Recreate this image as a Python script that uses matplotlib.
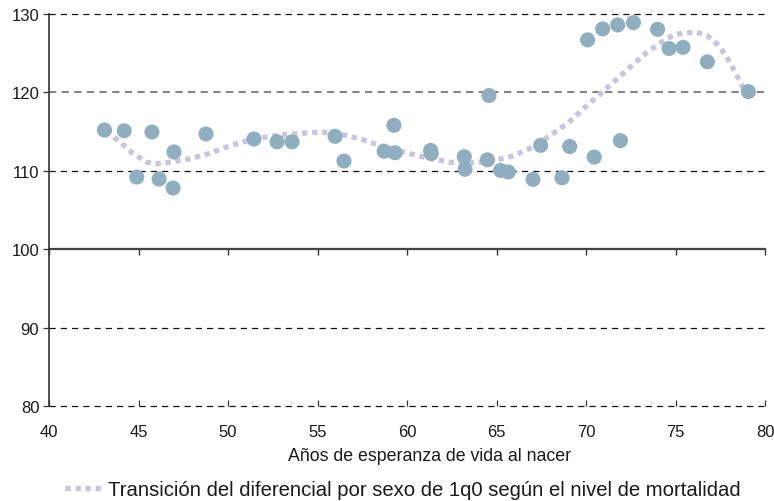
import matplotlib
matplotlib.use("Agg")
import matplotlib.pyplot as plt
from matplotlib.lines import Line2D

plt.rcParams['font.family'] = ['Liberation Sans', 'DejaVu Sans']

# Observed points: life expectancy at birth vs. sex differential of 1q0
life_exp = [43.1, 44.2, 44.9, 45.75, 46.15, 46.93, 46.98, 48.77, 51.45, 52.74,
            53.58, 55.98, 56.48, 58.72, 59.27, 59.33, 61.32, 61.35, 63.2, 63.24,
            64.49, 64.58, 65.23, 65.66, 67.04, 67.47, 68.66, 69.09, 70.09, 70.46,
            70.93, 71.77, 71.92, 72.65, 74.0, 74.64, 75.42, 76.78, 79.07]
sex_diff = [115.2, 115.1, 109.2, 114.95, 108.95, 107.8, 112.4, 114.7, 114.05, 113.7,
            113.7, 114.4, 111.25, 112.5, 115.8, 112.3, 112.6, 112.2, 111.8, 110.2,
            111.4, 119.6, 110.05, 109.85, 108.9, 113.25, 109.1, 113.1, 126.7, 111.75,
            128.1, 128.6, 113.85, 128.9, 128.05, 125.6, 125.75, 123.9, 120.1]

# Transition curve
trend_x = [43.2, 44.0, 44.7, 45.46, 46.1, 46.76, 47.8, 48.8, 50.0, 51.4, 53.0,
           54.75, 55.7, 56.63, 57.6, 58.5, 59.98, 61.2, 62.4, 63.3, 64.08, 65.0,
           65.94, 67.0, 68.0, 69.0, 69.85, 70.7, 71.53, 72.5, 73.39, 74.2, 74.88,
           75.5, 76.18, 76.8, 77.3, 77.8, 78.23, 78.6, 78.98, 79.2]
trend_y = [115.1, 113.6, 112.2, 111.1, 110.9, 111.1, 111.5, 112.1, 113.1, 114.05, 114.6,
           114.9, 114.9, 114.5, 113.9, 113.2, 112.27, 111.6, 111.1, 110.95, 111.1, 111.4,
           111.9, 113.0, 114.5, 116.1, 117.9, 119.6, 121.3, 123.3, 125.1, 126.4, 127.3,
           127.6, 127.66, 127.2, 126.2, 124.8, 123.0, 121.4, 119.6, 118.8]

x_ticks = [40, 45, 50, 55, 60, 65, 70, 75, 80]
y_ticks = [80, 90, 100, 110, 120, 130]
x_label = "Años de esperanza de vida al nacer"
legend_label = "Transición del diferencial por sexo de 1q0 según el nivel de mortalidad"

point_color = "#8fafc1"
trend_color = "#c9c4e2"
text_color = "#1a1a1a"

fig = plt.figure(figsize=(7.74, 5.02), dpi=100)
ax = fig.add_axes([49 / 774, 1 - 407 / 502, (765 - 49) / 774, (407 - 15) / 502])
ax.set_xlim(40, 80)
ax.set_ylim(80, 130)

# Horizontal reference lines
for yv in [80, 90, 110, 130]:
    ax.axhline(yv, color="#111111", lw=0.9, dashes=(5, 4), zorder=1, clip_on=False)
ax.axhline(120, color="#777777", lw=1.3, dashes=(4, 3), zorder=1)

# Spines
for s in ["top", "right", "bottom"]:
    ax.spines[s].set_visible(False)
ax.spines["left"].set_color("#333333")
ax.spines["left"].set_linewidth(1.2)

ax.set_xticks(x_ticks)
ax.set_yticks(y_ticks)
ax.tick_params(axis="x", direction="in", length=4, width=0.9, color="#333333",
               labelsize=12, labelcolor=text_color, pad=13)
ax.tick_params(axis="y", direction="out", length=4, width=0.9, color="#333333",
               labelsize=12, labelcolor=text_color, pad=3)
ax.set_xlabel(x_label, fontsize=12.8, color=text_color, labelpad=6)
ax.xaxis.label.set_x((430 - 49) / 716)

# Solid axis line at 100 with downward ticks
sec = ax.secondary_xaxis((100 - 80) / 50)
sec.set_xticks(x_ticks)
sec.tick_params(axis="x", direction="out", length=4, width=1.0, color="#333333",
                labelbottom=False, labeltop=False)
sec.spines["bottom"].set_color("#444444")
sec.spines["bottom"].set_linewidth(1.6)

ax.plot(trend_x, trend_y, color=trend_color, lw=3.8, dashes=(1, 0.9),
        solid_capstyle="butt", dash_capstyle="butt", zorder=2)
ax.scatter(life_exp, sex_diff, s=118, color=point_color, edgecolors="none", zorder=3)

handle = Line2D([], [], color=trend_color, lw=3.8, dashes=(1, 0.9),
                dash_capstyle="butt")
fig.legend([handle], [legend_label], loc="center", bbox_to_anchor=(403 / 774, 1 - 491 / 502),
           frameon=False, fontsize=14.6, handlelength=2.0, handletextpad=0.15,
           labelcolor=text_color)

fig.savefig("out.png", dpi=100)
